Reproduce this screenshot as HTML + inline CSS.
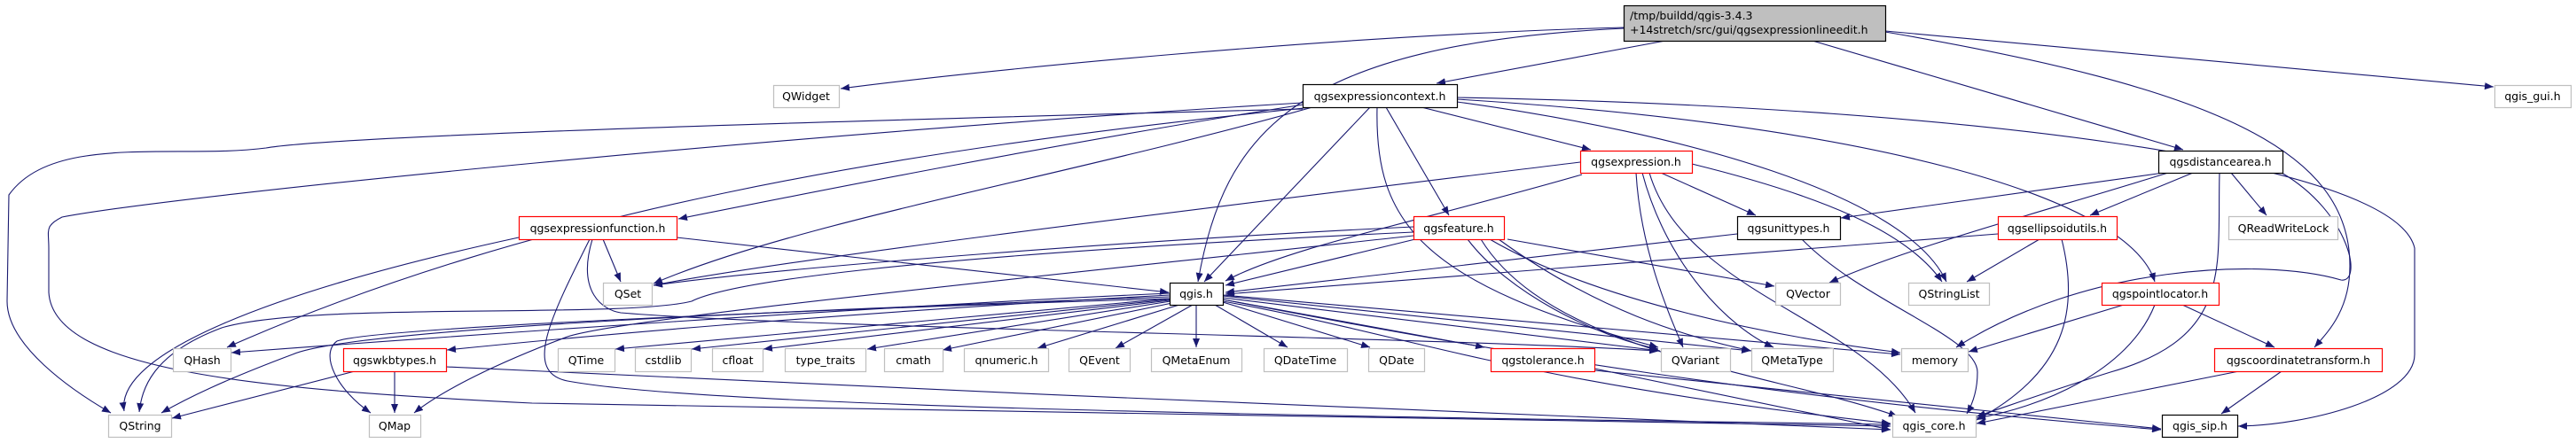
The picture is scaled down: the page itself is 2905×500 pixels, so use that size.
<!DOCTYPE html>
<html><head><meta charset="utf-8"><style>
html,body{margin:0;padding:0;background:#fff;width:2905px;height:500px;overflow:hidden}
svg text{font-family:"DejaVu Sans","Liberation Sans",sans-serif;font-size:12.5px;fill:#000}
</style></head><body>
<svg width="2905" height="500" viewBox="0 0 2905 500" xmlns="http://www.w3.org/2000/svg">
<defs><marker id="a" markerUnits="userSpaceOnUse" markerWidth="11" markerHeight="8" refX="10" refY="4" orient="auto"><path d="M0,0 L10,4 L0,8 z" fill="#191970"/></marker></defs>
<g fill="none" stroke="#191970" stroke-width="1.1" marker-end="url(#a)">
<path d="M1831,31 C1500,40 1100,80 948,100"/>
<path d="M1878,46 L1620,94"/>
<path d="M1831,32 C1460,50 1380,150 1351,318"/>
<path d="M2044,46 L2462,169"/>
<path d="M2126,35 L2812,98"/>
<path d="M2126,36 C2500,100 2650,170 2650,300 C2650,350 2625,375 2610,392"/>
<path d="M1469,123 C1200,130 400,150 300,167 C200,180 60,150 10,220 L8,340 C8,390 80,440 125,466"/>
<path d="M1469,116 C900,150 200,220 70,245 C50,255 55,260 55,280 L55,330 C60,420 300,440 600,455 L2132,481"/>
<path d="M1480,121 C1000,170 600,240 256,392"/>
<path d="M1470,118 C1200,160 900,220 765,247"/>
<path d="M1480,121 C1200,200 900,250 737,320"/>
<path d="M1545,121 L1358,318"/>
<path d="M1563,121 L1634,243"/>
<path d="M1603,121 L1794,169"/>
<path d="M1553,121 C1550,250 1600,320 1870,392"/>
<path d="M1643,112 C2100,140 2400,220 2430,318"/>
<path d="M1643,110 C2200,120 2700,180 2723,280 L2723,400 C2723,450 2600,480 2524,481"/>
<path d="M1643,115 C1900,150 2150,220 2195,318"/>
<path d="M1873,195 L1980,243"/>
<path d="M1908,185 C2050,220 2150,260 2190,318"/>
<path d="M1782,183 C1400,230 900,290 737,322"/>
<path d="M1784,197 C1600,250 1450,280 1382,317"/>
<path d="M1845,195 C1850,280 1880,350 1898,392"/>
<path d="M1852,195 C1880,300 1950,370 2000,392"/>
<path d="M1860,195 C1900,330 2100,360 2160,466"/>
<path d="M1596,270 L1382,322"/>
<path d="M1594,256 C1300,270 900,300 737,322"/>
<path d="M1594,262 C1000,290 820,320 780,340 C700,360 350,340 250,370 C170,400 160,440 157,465"/>
<path d="M1655,270 C1700,330 1800,380 1870,394"/>
<path d="M1700,270 L2001,323"/>
<path d="M1680,270 C1800,340 2000,380 2143,398"/>
<path d="M1670,270 C1750,400 2000,420 2140,470"/>
<path d="M1690,270 C1800,350 1900,380 1975,396"/>
<path d="M1594,266 C1100,320 700,360 640,380 C560,410 500,440 467,466"/>
<path d="M1319,331 C1000,345 500,380 261,398"/>
<path d="M1319,333 C1000,350 700,375 504,395"/>
<path d="M1319,335 C900,350 400,370 330,400 C250,430 210,450 182,466"/>
<path d="M1319,337 C900,350 420,370 380,385 C360,400 380,440 418,466"/>
<path d="M1319,337 L694,394"/>
<path d="M1319,338 L780,394"/>
<path d="M1319,339 L861,394"/>
<path d="M1320,340 L978,394"/>
<path d="M1322,342 L1063,395"/>
<path d="M1330,344 L1170,393"/>
<path d="M1345,344 L1258,393"/>
<path d="M1349,344 L1349,392"/>
<path d="M1370,344 L1452,392"/>
<path d="M1379,341 L1545,392"/>
<path d="M1379,338 L1674,392"/>
<path d="M1379,336 L1872,396"/>
<path d="M1379,334 L1974,396"/>
<path d="M1379,333 L2143,400"/>
<path d="M1379,340 C1600,380 1700,430 2132,478"/>
<path d="M1379,338 C1700,400 2000,450 2437,485"/>
<path d="M585,268 C300,330 130,400 140,464"/>
<path d="M680,270 L700,318"/>
<path d="M763,268 L1318,330"/>
<path d="M665,270 C620,360 590,420 640,430 C800,460 1500,470 2132,479"/>
<path d="M668,270 C650,330 680,350 700,353 C900,370 1600,380 1870,396"/>
<path d="M400,419 L194,472"/>
<path d="M445,419 L445,466"/>
<path d="M503,414 C1000,440 1800,470 2132,485"/>
<path d="M1798,416 L2132,485"/>
<path d="M1798,418 L2437,484"/>
<path d="M1959,264 L1382,330"/>
<path d="M2032,270 C2100,340 2230,380 2230,420 C2230,440 2225,455 2218,467"/>
<path d="M2440,195 L2076,246"/>
<path d="M2445,195 C2300,240 2150,280 2063,319"/>
<path d="M2473,195 L2357,243"/>
<path d="M2516,195 L2556,243"/>
<path d="M2503,195 C2500,300 2520,380 2380,420 C2300,445 2260,460 2229,470"/>
<path d="M2573,195 C2650,240 2665,320 2640,316 C2550,290 2350,300 2206,392"/>
<path d="M2253,264 L1382,332"/>
<path d="M2300,270 L2218,318"/>
<path d="M2325,270 C2345,350 2330,420 2229,474"/>
<path d="M2395,344 L2220,397"/>
<path d="M2430,344 C2400,420 2300,460 2229,472"/>
<path d="M2461,344 L2565,392"/>
<path d="M2525,419 L2229,478"/>
<path d="M2573,419 L2505,467"/>
</g>
<g stroke-width="1.2">
<rect x="1831.5" y="6.5" width="295" height="40" fill="#bfbfbf" stroke="#000"/>
<rect x="872.5" y="96.5" width="74" height="25" fill="#fff" stroke="#bfbfbf"/>
<rect x="1469.5" y="95.5" width="174" height="26" fill="#fff" stroke="#000"/>
<rect x="2813.5" y="96.5" width="86" height="25" fill="#fff" stroke="#bfbfbf"/>
<rect x="1782.5" y="170.5" width="126" height="25" fill="#fff" stroke="#ff0000"/>
<rect x="2434.5" y="170.5" width="140" height="25" fill="#fff" stroke="#000"/>
<rect x="585.5" y="244.5" width="178" height="26" fill="#fff" stroke="#ff0000"/>
<rect x="1594.5" y="244.5" width="102" height="26" fill="#fff" stroke="#ff0000"/>
<rect x="1959.5" y="244.5" width="116" height="26" fill="#fff" stroke="#000"/>
<rect x="2253.5" y="244.5" width="134" height="26" fill="#fff" stroke="#ff0000"/>
<rect x="2513.5" y="244.5" width="123" height="26" fill="#fff" stroke="#bfbfbf"/>
<rect x="680.5" y="319.5" width="55" height="25" fill="#fff" stroke="#bfbfbf"/>
<rect x="1319.5" y="319.5" width="60" height="25" fill="#fff" stroke="#000"/>
<rect x="2002.5" y="319.5" width="73" height="25" fill="#fff" stroke="#bfbfbf"/>
<rect x="2152.5" y="319.5" width="91" height="25" fill="#fff" stroke="#bfbfbf"/>
<rect x="2370.5" y="319.5" width="132" height="25" fill="#fff" stroke="#ff0000"/>
<rect x="195.5" y="393.5" width="65" height="26" fill="#fff" stroke="#bfbfbf"/>
<rect x="387.5" y="393.5" width="116" height="26" fill="#fff" stroke="#ff0000"/>
<rect x="629.5" y="393.5" width="64" height="26" fill="#fff" stroke="#bfbfbf"/>
<rect x="716.5" y="393.5" width="63" height="26" fill="#fff" stroke="#bfbfbf"/>
<rect x="803.5" y="393.5" width="57" height="26" fill="#fff" stroke="#bfbfbf"/>
<rect x="885.5" y="393.5" width="91" height="26" fill="#fff" stroke="#bfbfbf"/>
<rect x="997.5" y="393.5" width="66" height="26" fill="#fff" stroke="#bfbfbf"/>
<rect x="1087.5" y="393.5" width="95" height="26" fill="#fff" stroke="#bfbfbf"/>
<rect x="1205.5" y="393.5" width="69" height="26" fill="#fff" stroke="#bfbfbf"/>
<rect x="1298.5" y="393.5" width="102" height="26" fill="#fff" stroke="#bfbfbf"/>
<rect x="1425.5" y="393.5" width="94" height="26" fill="#fff" stroke="#bfbfbf"/>
<rect x="1543.5" y="393.5" width="63" height="26" fill="#fff" stroke="#bfbfbf"/>
<rect x="1681.5" y="393.5" width="117" height="26" fill="#fff" stroke="#ff0000"/>
<rect x="1873.5" y="393.5" width="78" height="26" fill="#fff" stroke="#bfbfbf"/>
<rect x="1975.5" y="393.5" width="92" height="26" fill="#fff" stroke="#bfbfbf"/>
<rect x="2144.5" y="393.5" width="75" height="26" fill="#fff" stroke="#bfbfbf"/>
<rect x="2497.5" y="393.5" width="189" height="26" fill="#fff" stroke="#ff0000"/>
<rect x="122.5" y="468.5" width="71" height="25" fill="#fff" stroke="#bfbfbf"/>
<rect x="416.5" y="468.5" width="58" height="25" fill="#fff" stroke="#bfbfbf"/>
<rect x="2134.5" y="468.5" width="94" height="25" fill="#fff" stroke="#bfbfbf"/>
<rect x="2438.5" y="468.5" width="85" height="25" fill="#fff" stroke="#000"/>
</g>
<g text-anchor="middle">
<text x="909" y="113">QWidget</text>
<text x="1556" y="113">qgsexpressioncontext.h</text>
<text x="2856" y="113">qgis_gui.h</text>
<text x="1845" y="187">qgsexpression.h</text>
<text x="2504" y="187">qgsdistancearea.h</text>
<text x="674" y="262">qgsexpressionfunction.h</text>
<text x="1645" y="262">qgsfeature.h</text>
<text x="2017" y="262">qgsunittypes.h</text>
<text x="2320" y="262">qgsellipsoidutils.h</text>
<text x="2575" y="262">QReadWriteLock</text>
<text x="708" y="336">QSet</text>
<text x="1349" y="336">qgis.h</text>
<text x="2039" y="336">QVector</text>
<text x="2198" y="336">QStringList</text>
<text x="2436" y="336">qgspointlocator.h</text>
<text x="228" y="411">QHash</text>
<text x="445" y="411">qgswkbtypes.h</text>
<text x="661" y="411">QTime</text>
<text x="748" y="411">cstdlib</text>
<text x="832" y="411">cfloat</text>
<text x="931" y="411">type_traits</text>
<text x="1030" y="411">cmath</text>
<text x="1135" y="411">qnumeric.h</text>
<text x="1240" y="411">QEvent</text>
<text x="1349" y="411">QMetaEnum</text>
<text x="1472" y="411">QDateTime</text>
<text x="1575" y="411">QDate</text>
<text x="1740" y="411">qgstolerance.h</text>
<text x="1912" y="411">QVariant</text>
<text x="2021" y="411">QMetaType</text>
<text x="2182" y="411">memory</text>
<text x="2592" y="411">qgscoordinatetransform.h</text>
<text x="158" y="485">QString</text>
<text x="445" y="485">QMap</text>
<text x="2181" y="485">qgis_core.h</text>
<text x="2481" y="485">qgis_sip.h</text>
</g>
<text x="1838" y="22">/tmp/buildd/qgis-3.4.3</text>
<text x="1838" y="38">+14stretch/src/gui/qgsexpressionlineedit.h</text>
</svg>
</body></html>
